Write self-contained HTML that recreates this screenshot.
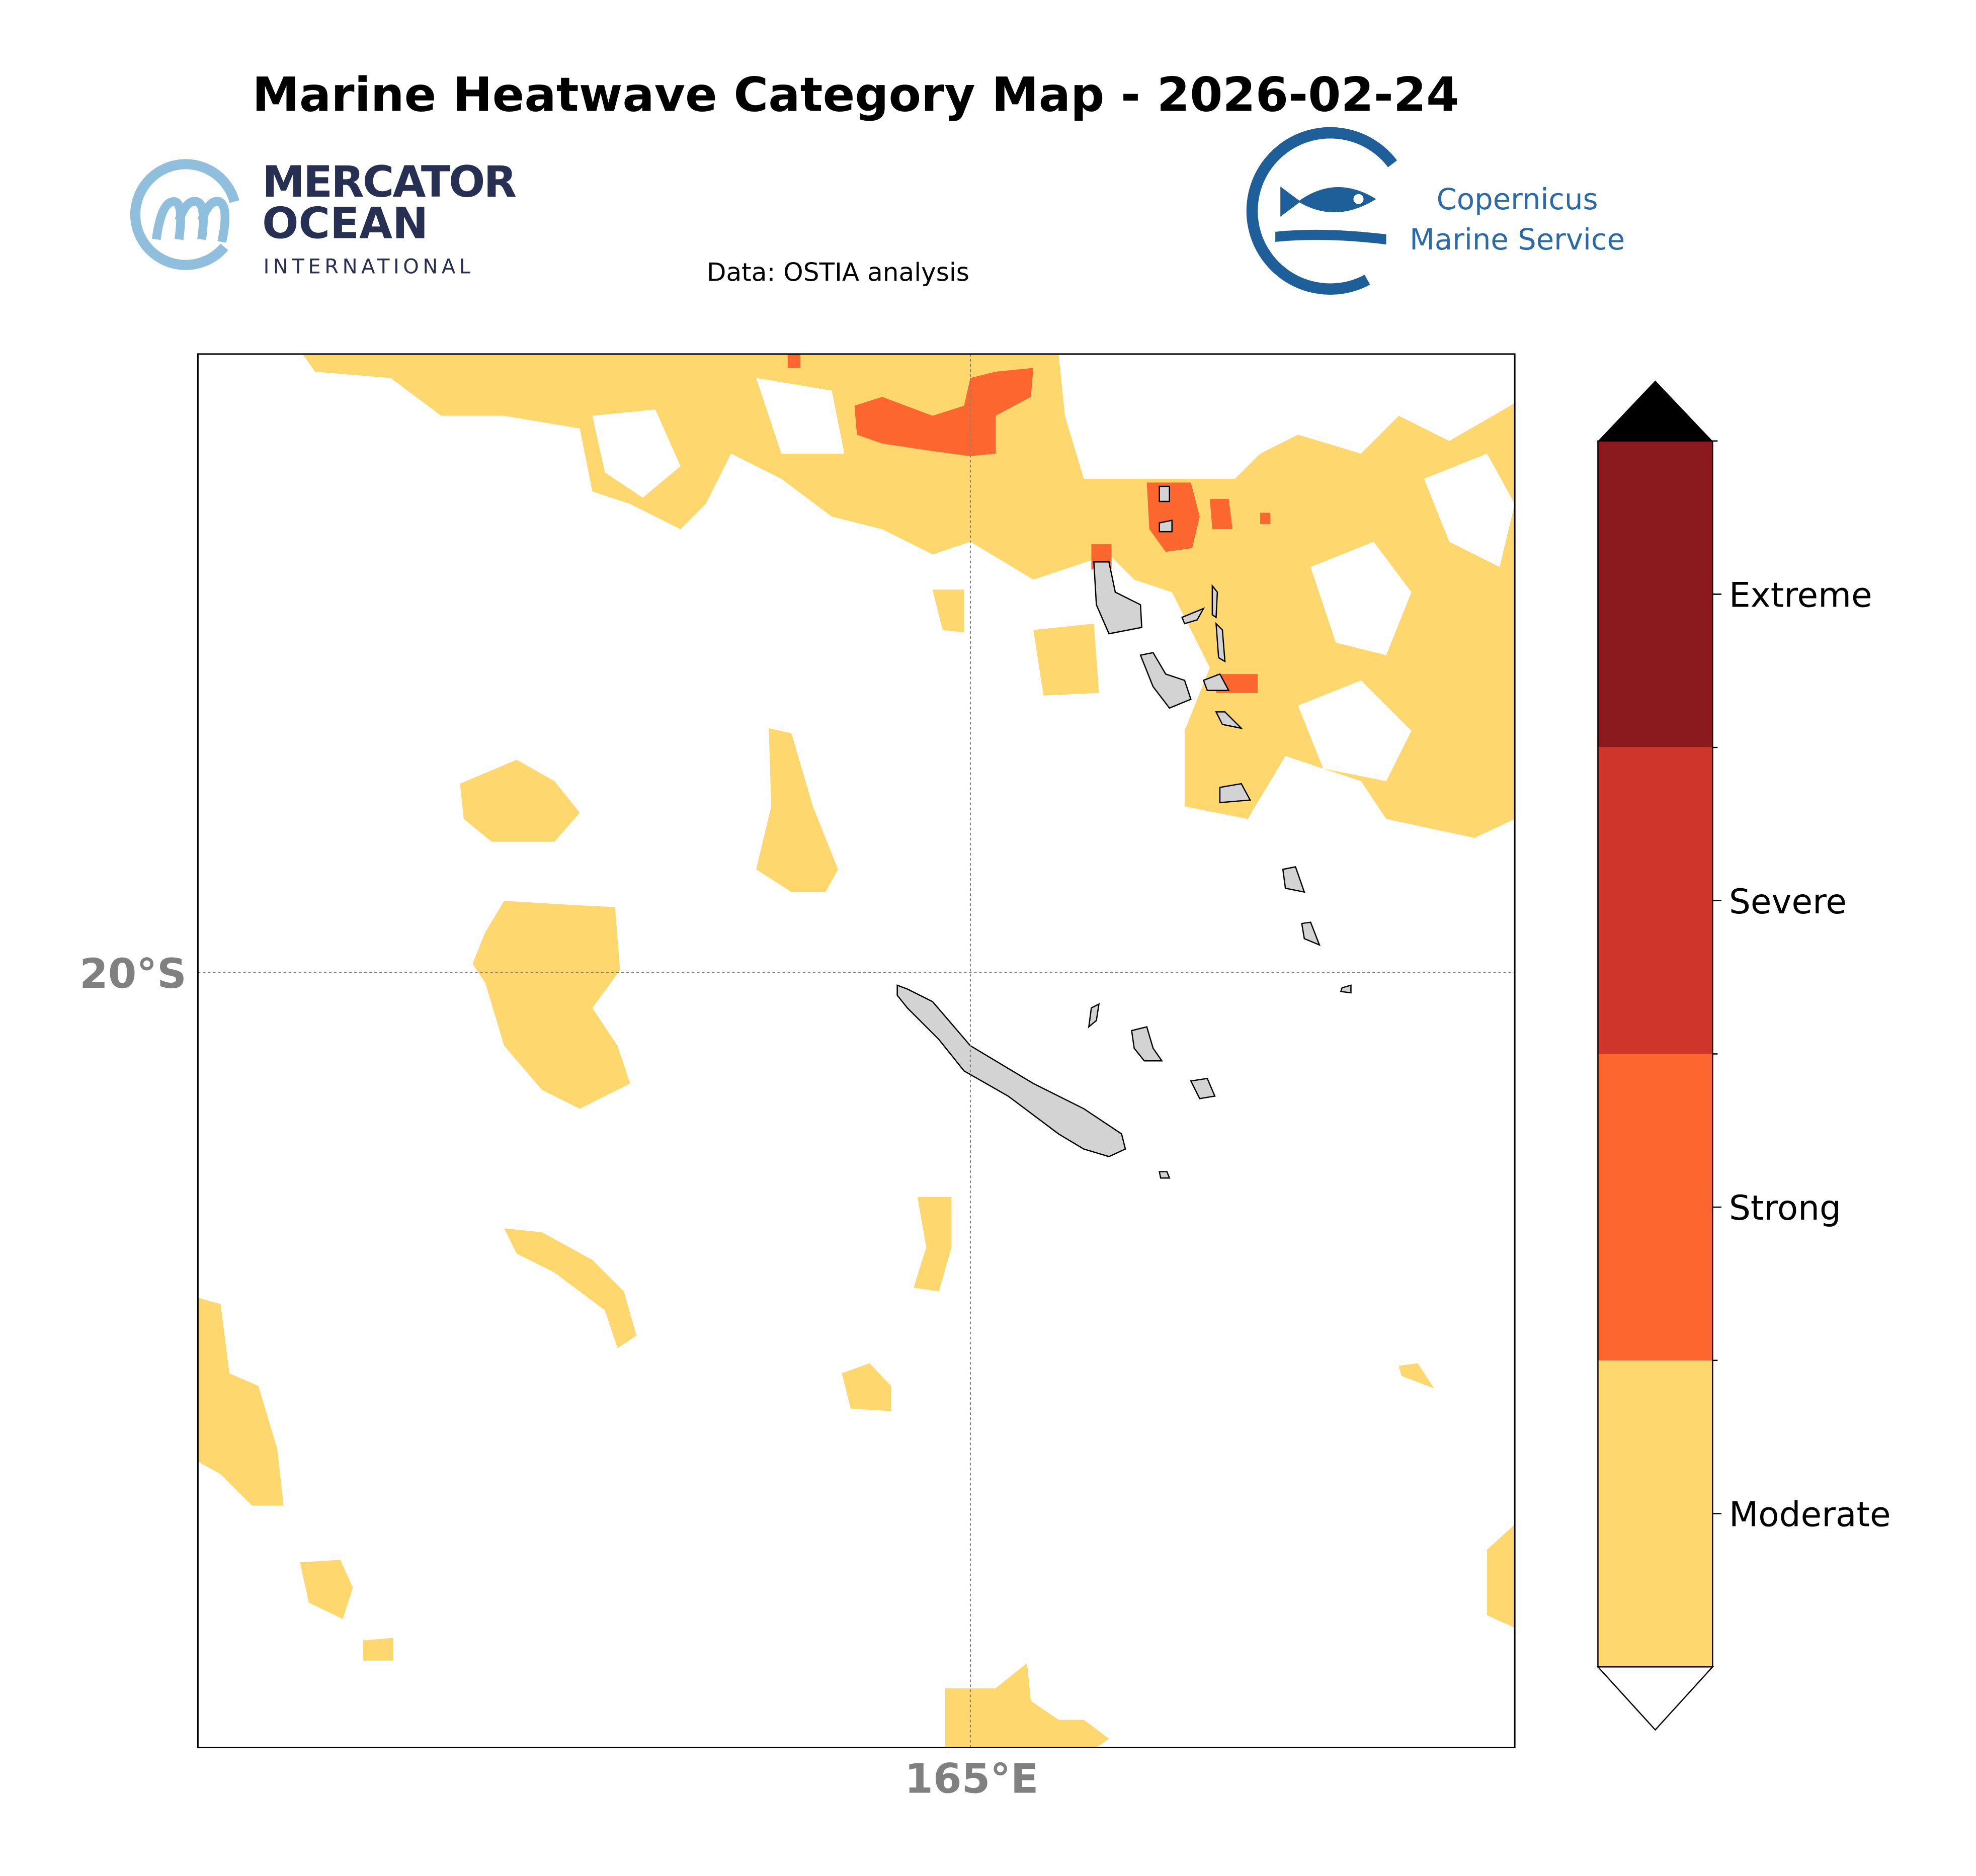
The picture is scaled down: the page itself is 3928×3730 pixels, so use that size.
<!DOCTYPE html>
<html><head><meta charset="utf-8"><style>
html,body{margin:0;padding:0;background:#fff}
svg{display:block}
text{font-family:"DejaVu Sans","Liberation Sans",sans-serif}
</style></head><body>
<svg id="fig" width="3928" height="3730" viewBox="0 0 1568 1489" xmlns="http://www.w3.org/2000/svg">
<rect width="1568" height="1489" fill="#fff"/>
<text x="679" y="88" text-anchor="middle" font-size="37.5" font-weight="bold">Marine Heatwave Category Map - 2026-02-24</text>
<g>
<path d="M178 196 A40 40 0 1 1 186 160" fill="none" stroke="#8fbfdc" stroke-width="8"/>
<path d="M124 190 Q128 160 138 160 Q146 160 142 190 M142 175 Q148 158 156 160 Q164 162 160 190 M160 175 Q166 158 174 160 Q182 164 176 192" fill="none" stroke="#8fbfdc" stroke-width="7"/>
<text x="208" y="156" font-size="34" font-weight="bold" fill="#272f52" textLength="202">MERCATOR</text>
<text x="208" y="189" font-size="34" font-weight="bold" fill="#272f52">OCEAN</text>
<text x="209" y="217" font-size="16" fill="#272f52" letter-spacing="3">INTERNATIONAL</text>
</g>
<g>
<path d="M1105 130 A62 62 0 1 0 1085 222" fill="none" stroke="#1f5f99" stroke-width="9"/>
<path d="M1012 184 Q1050 180 1100 186 L1100 194 Q1050 188 1012 192 Z" fill="#1f5f99"/>
<path d="M1030 160 Q1060 138 1092 158 Q1060 178 1030 160 Z M1016 148 L1032 160 L1016 172 Z" fill="#1f5f99"/>
<circle cx="1078" cy="158" r="4" fill="#fff"/>
<text x="1204" y="166" font-size="23" fill="#2a6aa6" text-anchor="middle">Copernicus</text>
<text x="1204" y="198" font-size="23" fill="#2a6aa6" text-anchor="middle">Marine Service</text>
</g>
<text x="665" y="223" font-size="20" text-anchor="middle">Data: OSTIA analysis</text>
<defs><clipPath id="mapclip"><rect x="157" y="281" width="1045" height="1106"/></clipPath></defs>
<g id="map" clip-path="url(#mapclip)"></g>
<rect x="157" y="281" width="1045" height="1106" fill="none" stroke="#000" stroke-width="1.2"/>
<text x="148" y="784" font-size="32.5" font-weight="bold" fill="#808080" text-anchor="end">20°S</text>
<text x="771" y="1423" font-size="32.5" font-weight="bold" fill="#808080" text-anchor="middle">165°E</text>
<g id="cbar"></g>
<script>
const categories=["Moderate","Strong","Severe","Extreme"];
const catColors=["#fed86e","#fe6630","#d0352b","#8b1a1e"];
const moderateShapes=[
"240,281 840,281 845,330 860,380 920,380 980,380 1000,360 1030,345 1080,360 1110,330 1150,350 1202,320 1202,650 1170,665 1100,650 1080,620 1020,600 990,650 940,640 940,580 960,530 930,470 900,460 880,440 820,460 770,430 740,440 700,420 660,410 620,380 580,360 560,400 540,420 500,400 470,390 460,340 400,330 350,330 310,300 250,295",
"820,500 868,495 872,550 828,552",
"740,468 765,468 765,502 748,500",
"365,622 410,603 440,620 460,645 440,668 390,668 368,650",
"610,578 628,582 645,640 665,690 655,708 628,708 600,690 612,640",
"400,715 450,718 488,720 492,770 470,800 490,830 500,860 460,880 430,865 400,830 385,780 375,765 385,740",
"400,975 430,978 470,1000 495,1025 505,1060 490,1070 480,1040 440,1010 410,995",
"157,1030 175,1035 182,1090 205,1100 220,1150 225,1195 200,1195 175,1170 157,1160",
"238,1240 270,1238 280,1260 272,1285 245,1272",
"288,1302 312,1300 312,1318 288,1318",
"668,1090 690,1082 707,1100 707,1120 675,1118",
"728,950 755,950 755,990 745,1025 725,1022 735,990",
"750,1340 790,1340 815,1320 818,1350 840,1365 860,1365 880,1380 870,1387 750,1387",
"1180,1230 1202,1210 1202,1292 1180,1282",
"1110,1084 1125,1082 1138,1102 1112,1092"];
const holeShapes=[
"860,300 1000,300 1000,340 960,360 880,370 865,340",
"1100,281 1202,281 1202,318 1150,330 1110,300",
"470,330 520,325 540,370 510,395 480,375",
"600,300 660,310 670,360 620,360",
"1040,450 1090,430 1120,470 1100,520 1060,510",
"1030,560 1080,540 1120,580 1100,620 1050,610",
"1130,380 1180,360 1202,400 1190,450 1150,430"];
const strongShapes=[
"678,322 700,315 740,330 765,322 770,300 790,295 820,292 818,315 790,330 790,360 770,362 740,358 700,352 680,345",
"910,383 945,383 952,410 946,435 925,438 912,420",
"960,396 975,396 978,420 962,420",
"965,535 998,535 998,550 965,550",
"866,432 882,432 882,452 866,452",
"625,281 635,281 635,292 625,292",
"1000,407 1008,407 1008,416 1000,416"];
const islands=[
"712,782 720,785 740,795 770,830 820,860 860,880 890,900 893,912 880,918 860,912 840,900 800,870 765,850 745,825 720,800 712,790",
"868,446 880,446 885,470 905,480 906,498 880,503 870,480",
"905,520 915,518 925,535 940,540 945,555 928,562 915,545",
"938,490 955,483 950,492 940,495",
"962,465 966,470 965,490 962,488",
"965,495 970,500 972,525 967,522",
"955,540 968,535 975,548 958,548",
"965,565 972,565 985,578 970,575",
"968,625 985,622 992,635 968,637",
"1018,690 1028,688 1035,708 1020,705",
"1033,733 1040,732 1047,750 1035,745",
"1065,784 1072,782 1072,788 1064,787",
"898,818 910,815 915,832 922,842 908,842 900,832",
"945,858 958,856 964,870 952,872",
"920,386 928,386 928,398 920,398",
"920,415 930,413 930,422 920,422",
"866,800 872,797 870,810 864,815",
"920,930 926,930 928,935 921,935"];
const map=document.getElementById('map');
function poly(pts,fill,name,stroke){
  const p=document.createElementNS('http://www.w3.org/2000/svg','polygon');
  p.setAttribute('points',pts);p.setAttribute('fill',fill);
  if(stroke){p.setAttribute('stroke','#000');p.setAttribute('stroke-width','1');}
  
  
  map.appendChild(p);
}
moderateShapes.forEach(s=>poly(s,catColors[0],'moderate-heatwave-area'));
holeShapes.forEach(s=>poly(s,'#fff','no-heatwave-area'));
strongShapes.forEach(s=>poly(s,catColors[1],'strong-heatwave-area'));
islands.forEach(s=>poly(s,'#d3d3d3','island',true));
function line(x1,y1,x2,y2,name,parent,stroke,w,dash){
  const l=document.createElementNS('http://www.w3.org/2000/svg','line');
  l.setAttribute('x1',x1);l.setAttribute('y1',y1);l.setAttribute('x2',x2);l.setAttribute('y2',y2);
  l.setAttribute('stroke',stroke);l.setAttribute('stroke-width',w);if(dash)l.setAttribute('stroke-dasharray',dash);
  
  
  parent.appendChild(l);
}
line(770,281,770,1387,'gridline-165e',map,'#808080',0.8,'2,2');
line(157,772,1202,772,'gridline-20s',map,'#808080',0.8,'2,2');
const cb=document.getElementById('cbar');
const cx0=1268,cx1=1359,cTop=350,cBot=1323;
const segH=(cBot-cTop)/categories.length;
function cbY(i){return cBot-i*segH;}
const ext=document.createElementNS('http://www.w3.org/2000/svg','polygon');
ext.setAttribute('points',`${cx0},${cTop} ${(cx0+cx1)/2},302 ${cx1},${cTop}`);
ext.setAttribute('fill','#000');


cb.appendChild(ext);
const ext2=document.createElementNS('http://www.w3.org/2000/svg','polygon');
ext2.setAttribute('points',`${cx0},${cBot} ${(cx0+cx1)/2},1373 ${cx1},${cBot}`);
ext2.setAttribute('fill','#fff');ext2.setAttribute('stroke','#000');ext2.setAttribute('stroke-width','1');


cb.appendChild(ext2);
categories.forEach((c,i)=>{
  const r=document.createElementNS('http://www.w3.org/2000/svg','rect');
  r.setAttribute('x',cx0);r.setAttribute('y',cbY(i+1));r.setAttribute('width',cx1-cx0);r.setAttribute('height',segH);
  r.setAttribute('fill',catColors[i]);
  
  
  cb.appendChild(r);
  const ym=cbY(i)-segH/2;
  line(cx1,ym,cx1+7,ym,'colorbar-tick',cb,'#000',1);
  line(cx1,cbY(i+1),cx1+4,cbY(i+1),'colorbar-minor-tick',cb,'#000',1);
  const t=document.createElementNS('http://www.w3.org/2000/svg','text');
  t.setAttribute('x',1372);t.setAttribute('y',ym+10);t.setAttribute('font-size','27');
  t.textContent=c;
  
  
  cb.appendChild(t);
});
const fr=document.createElementNS('http://www.w3.org/2000/svg','rect');
fr.setAttribute('x',cx0);fr.setAttribute('y',cTop);fr.setAttribute('width',cx1-cx0);fr.setAttribute('height',cBot-cTop);
fr.setAttribute('fill','none');fr.setAttribute('stroke','#000');fr.setAttribute('stroke-width','1');


cb.appendChild(fr);
</script>
</svg>
</body></html>
